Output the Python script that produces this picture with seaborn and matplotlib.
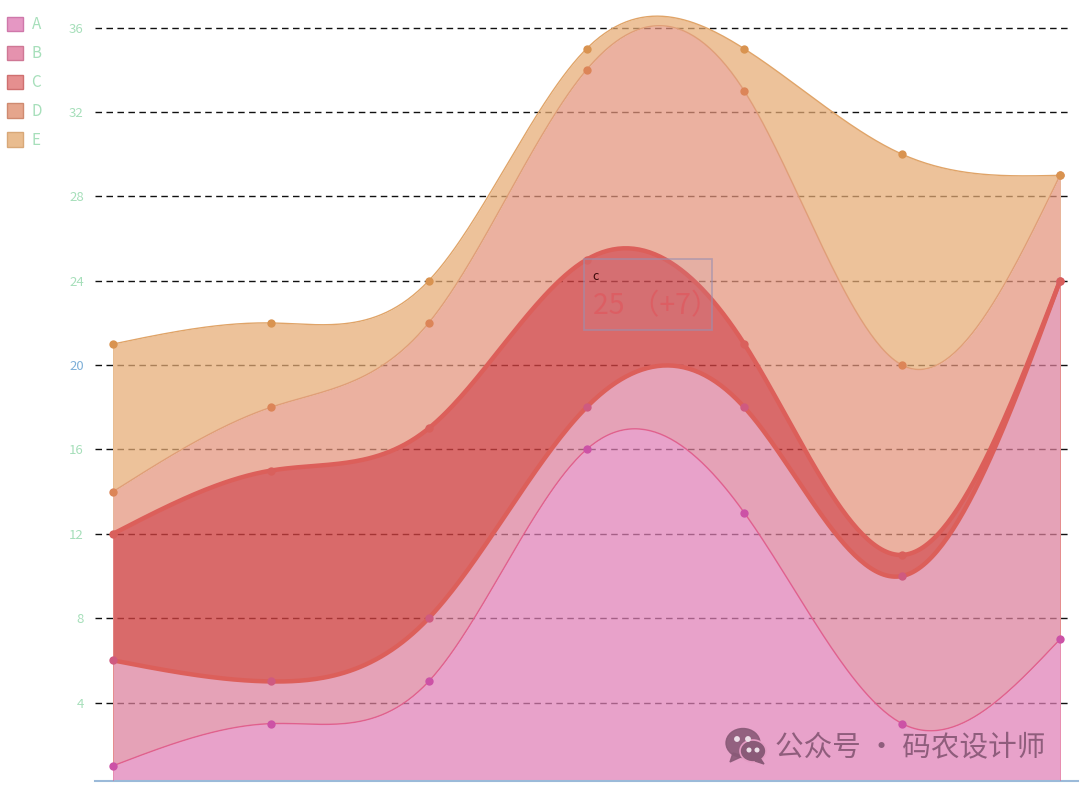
import numpy as np
import pandas as pd
import matplotlib
matplotlib.use("Agg")
import matplotlib.pyplot as plt
from matplotlib.patches import Patch, Rectangle, Ellipse, Polygon
import seaborn as sns

# Stacked totals per category, bottom layer first
series_names = ["A", "B", "C", "D", "E"]
series_a = [1, 3, 5, 16, 13, 3, 7]
series_b = [6, 5, 8, 18, 18, 10, 24]
series_c = [12, 15, 17, 25, 21, 11, 24]
series_d = [14, 18, 22, 34, 33, 20, 29]
series_e = [21, 22, 24, 35, 35, 30, 29]
y_ticks = [4, 8, 12, 16, 20, 24, 28, 32, 36]

fill_colors = ["#e07fb6", "#dc7f9b", "#cf4040", "#e4937b", "#e6ab74"]
line_colors = ["#e0608e", "#dc5f5a", "#dc5f5a", "#e09e78", "#e0a468"]
dot_colors = ["#cc52a6", "#cf5a80", "#d9605c", "#dc8558", "#d99350"]
line_widths = [1.0, 3.2, 3.2, 1.0, 1.0]
swatch_fill = ["#e597c3", "#e592ae", "#e58f8f", "#e5a58c", "#e9bc8f"]
swatch_edge = ["#cf78aa", "#cf7895", "#cf7070", "#cf8a70", "#d8a878"]
tick_green = "#a6dfba"
tick_blue = "#7fb0d8"

W, H = 1080, 790
AX_LEFT, AX_RIGHT, AX_TOP, AX_BOTTOM = 95, 1078, 10, 781


def smooth(values, samples=60):
    """Natural cubic spline through evenly spaced values."""
    v = np.asarray(values, dtype=float)
    n = len(v)
    system = np.zeros((n, n))
    rhs = np.zeros(n)
    system[0, 0] = system[-1, -1] = 1
    for i in range(1, n - 1):
        system[i, i - 1:i + 2] = [1, 4, 1]
        rhs[i] = 6 * (v[i - 1] - 2 * v[i] + v[i + 1])
    bend = np.linalg.solve(system, rhs)
    xs, ys = [], []
    for i in range(n - 1):
        t = np.linspace(0, 1, samples, endpoint=i == n - 2)
        a, b = 1 - t, t
        ys.append(a * v[i] + b * v[i + 1] + ((a**3 - a) * bend[i] + (b**3 - b) * bend[i + 1]) / 6)
        xs.append(i + t)
    return np.concatenate(xs), np.concatenate(ys)


sns.set_theme(style="white")
plt.rcParams["font.family"] = ["Noto Sans CJK SC", "DejaVu Sans"]

fig = plt.figure(figsize=(W / 100, H / 100), dpi=100, facecolor="white")
ax = fig.add_axes([AX_LEFT / W, 1 - AX_BOTTOM / H, (AX_RIGHT - AX_LEFT) / W, (AX_BOTTOM - AX_TOP) / H])
ax.set_facecolor("none")
ax.set_xlim(-0.114, 6.114)
ax.set_ylim(0.28, 36.84)

# Dashed value grid stays visible through the translucent bands
for tick in y_ticks:
    ax.plot([-0.114, 6.07], [tick, tick], color="#111111", lw=1.0, dashes=(4.7, 3.2), zorder=1)

all_series = [series_a, series_b, series_c, series_d, series_e]
curves = [smooth(s) for s in all_series]
lower = np.full_like(curves[0][1], ax.get_ylim()[0])
for k, (xs, ys) in enumerate(curves):
    ax.fill_between(xs, lower, ys, color=fill_colors[k], alpha=0.78 if k == 2 else 0.72, lw=0, zorder=2 + k * 0.1)
    # thin closing edges at both ends of each band
    ax.plot([xs[0], xs[0]], [lower[0], ys[0]], color=line_colors[k], lw=0.7, alpha=0.6, zorder=3)
    ax.plot([xs[-1], xs[-1]], [lower[-1], ys[-1]], color=line_colors[k], lw=0.7, alpha=0.6, zorder=3)
    lower = ys

for k, (xs, ys) in enumerate(curves):
    frame = pd.DataFrame({"x": xs, "y": ys})
    sns.lineplot(data=frame, x="x", y="y", ax=ax, color=line_colors[k], lw=line_widths[k],
                 estimator=None, sort=False, errorbar=None, zorder=4, clip_on=False)
for k, values in enumerate(all_series):
    frame = pd.DataFrame({"x": np.arange(len(values)), "y": values})
    sns.scatterplot(data=frame, x="x", y="y", ax=ax, color=dot_colors[k], s=36, linewidth=0, zorder=5, clip_on=False)

ax.set_xlabel("")
ax.set_ylabel("")
ax.set_xticks([])
ax.set_yticks(y_ticks)
ax.set_yticklabels([str(t) for t in y_ticks], fontsize=9.5)
for label, tick in zip(ax.get_yticklabels(), y_ticks):
    label.set_color(tick_blue if tick == 20 else tick_green)
ax.tick_params(axis="y", length=0, pad=8)
for side in ["top", "right", "left"]:
    ax.spines[side].set_visible(False)
ax.spines["bottom"].set_color("#9bbad9")
ax.spines["bottom"].set_linewidth(1.5)

# Legend in the top-left corner
handles = [Patch(facecolor=f, edgecolor=e, lw=1.0, label=n) for f, e, n in zip(swatch_fill, swatch_edge, series_names)]
fig.legend(handles=handles, loc="upper left", bbox_to_anchor=(7 / W, 1 - 16 / H), bbox_transform=fig.transFigure,
           frameon=False, fontsize=11, handlelength=1.05, handleheight=1.05, labelspacing=0.78,
           handletextpad=0.55, borderpad=0, borderaxespad=0, labelcolor=tick_green)

# Overlay in pixel units for the hover box and the signature
overlay = fig.add_axes([0, 0, 1, 1], facecolor="none")
overlay.set_xlim(0, W)
overlay.set_ylim(H, 0)
overlay.axis("off")

hover = 3
overlay.add_patch(Rectangle((584, 259), 128, 71, facecolor="#b9a0c0", alpha=0.10, edgecolor="none"))
overlay.add_patch(Rectangle((584, 259), 128, 71, facecolor="none", edgecolor="#9a8fb0", alpha=0.6, lw=1.3))
overlay.text(592, 276, series_names[2].lower(), fontsize=9, color="#3a0808", va="center", ha="left")
overlay.text(593, 306, f"{series_c[hover]} （+{series_c[hover] - series_b[hover]}）", fontsize=20.5,
             color="#e0565c", alpha=0.65, va="center", ha="left")

# Chat-bubble mark and account name
ink = "#8a5a78"
overlay.add_patch(Ellipse((743, 743), 34, 29, color=ink, alpha=0.9))
overlay.add_patch(Polygon([[733, 753], [730, 762], [743, 756]], color=ink, alpha=0.9))
overlay.add_patch(Ellipse((753, 751), 26, 22, color=ink, ec="#e59cc4", lw=1.2))
overlay.add_patch(Polygon([[760, 758], [764, 764], [755, 761]], color=ink))
for cx, cy, r in [(737, 739, 2.2), (748, 739, 2.2), (749, 750, 1.8), (757, 750, 1.8)]:
    overlay.add_patch(Ellipse((cx, cy), 2 * r, 2 * r, color="#ecdfe8"))
overlay.text(775, 748, "公众号 · 码农设计师", fontsize=20.6, color=ink, alpha=0.95, va="center", ha="left")

fig.savefig("out.png", dpi=100)
